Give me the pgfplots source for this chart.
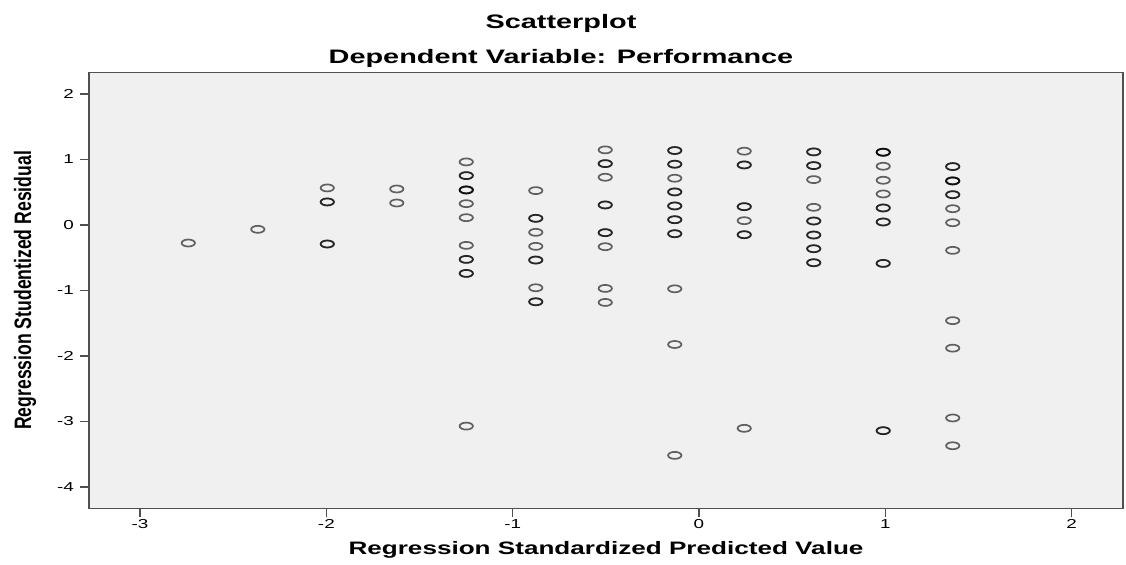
\documentclass[border=0pt]{standalone}
\usepackage{pgfplots}
\pgfplotsset{compat=1.18}
\usepackage{fontspec}
\setmainfont{Liberation Sans}
\usepackage{graphicx}
\definecolor{bg}{HTML}{F0F0F0}
\definecolor{axline}{HTML}{505050}
\newcommand\sx[1]{\scalebox{1.45}[1]{#1}}
\begin{document}
\begin{tikzpicture}
\useasboundingbox (-44.5pt,-27.85pt) rectangle (518.5pt,254.15pt);
\begin{axis}[
  at={(0,0)}, anchor=south west,
  scale only axis, width=517pt, height=217.9pt,
  xmin=-3.274, xmax=2.276, ymin=-4.325, ymax=2.328,
  axis background/.style={fill=bg},
  axis line style={draw=axline, line width=0.65pt},
  tick style={draw=axline, line width=0.65pt},
  tick align=outside, major tick length=4.5pt,
  xtick pos=bottom, ytick pos=left,
  xtick={-3,-2,-1,0,1,2},
  xticklabels={\sx{-3},\sx{-2},\sx{-1},\sx{0},\sx{1},\sx{2}},
  ytick={-4,-3,-2,-1,0,1,2},
  yticklabels={\sx{-4},\sx{-3},\sx{-2},\sx{-1},\sx{0},\sx{1},\sx{2}},
  ticklabel style={font=\fontsize{6.5pt}{7pt}\selectfont, text=black},
  xticklabel style={anchor=center, yshift=-3.5pt},
  yticklabel style={anchor=east, xshift=0.5pt},
  xlabel={\sx{\bfseries Regression Standardized Predicted Value}},
  label style={font=\fontsize{9pt}{10pt}\selectfont},
  xlabel style={at={(axis description cs:0.5,0)}, anchor=center, yshift=-20.85pt},
  clip=false,
]
\addplot[only marks, mark=o, mark size=1.75pt,
  mark options={xscale=1.9, line width=0.85pt, draw=black, draw opacity=0.6}]
coordinates {
(-2.741,-0.275)
(-2.368,-0.066)
(-1.995,0.566) (-1.995,0.352) (-1.995,-0.29)
(-1.622,0.55) (-1.622,0.336)
(-1.249,0.963) (-1.249,0.754) (-1.249,0.535) (-1.249,0.326) (-1.249,0.112) (-1.249,-0.311) (-1.249,-0.525) (-1.249,-0.739) (-1.249,-3.07)
(-0.876,0.525) (-0.876,0.102) (-0.876,-0.112) (-0.876,-0.326) (-0.876,-0.535) (-0.876,-0.958) (-0.876,-1.172)
(-0.503,1.147) (-0.503,0.937) (-0.503,0.729) (-0.503,0.306) (-0.503,-0.117) (-0.503,-0.331) (-0.503,-0.968) (-0.503,-1.182)
(-0.130,1.137) (-0.130,0.928) (-0.130,0.714) (-0.130,0.505) (-0.130,0.291) (-0.130,0.081) (-0.130,-0.133) (-0.130,-0.974) (-0.130,-1.824) (-0.130,-3.517)
(0.243,1.127) (0.243,0.917) (0.243,0.28) (0.243,0.066) (0.243,-0.148) (0.243,-3.104)
(0.616,1.116) (0.616,0.907) (0.616,0.693) (0.616,0.27) (0.616,0.061) (0.616,-0.153) (0.616,-0.362) (0.616,-0.576)
(0.989,1.111) (0.989,0.897) (0.989,0.683) (0.989,0.474) (0.989,0.26) (0.989,0.046) (0.989,-0.586) (0.989,-3.14)
(1.362,0.892) (1.362,0.673) (1.362,0.463) (1.362,0.249) (1.362,0.035) (1.362,-0.387) (1.362,-1.46) (1.362,-1.88) (1.362,-2.946) (1.362,-3.37)
};
% overlapping (repeated) cases drawn darker
\addplot[only marks, mark=o, mark size=1.75pt,
  mark options={xscale=1.9, line width=0.85pt, draw=black, draw opacity=0.6}]
coordinates {
(-1.995,0.352) (-1.995,-0.29)
(-1.249,0.754) (-1.249,0.535) (-1.249,0.535) (-1.249,-0.525) (-1.249,-0.739)
(-0.876,0.102) (-0.876,-0.535) (-0.876,-1.172)
(-0.503,0.937) (-0.503,0.306) (-0.503,-0.117)
(-0.130,1.137) (-0.130,0.928) (-0.130,0.505) (-0.130,0.291) (-0.130,0.081) (-0.130,-0.133)
(0.243,0.917) (0.243,0.28) (0.243,-0.148)
(0.616,1.116) (0.616,0.907) (0.616,0.061) (0.616,-0.153) (0.616,-0.362) (0.616,-0.576)
(0.989,1.111) (0.989,1.111) (0.989,0.26) (0.989,0.046) (0.989,-0.586) (0.989,-3.14)
(1.362,0.892) (1.362,0.673) (1.362,0.673) (1.362,0.463)
};
\end{axis}
\node[font=\fontsize{9.75pt}{11pt}\selectfont\bfseries, anchor=center] at (236pt,242.65pt) {\scalebox{1.48}[1]{Scatterplot}};
\node[font=\fontsize{9.75pt}{11pt}\selectfont\bfseries, anchor=center] at (236pt,225.15pt) {\scalebox{1.48}[1]{Dependent Variable: Performance}};
\node[font=\fontsize{8.8pt}{10pt}\selectfont\bfseries, rotate=90, anchor=center] at (-32pt,108.95pt) {\scalebox{1}[1.35]{Regression Studentized Residual}};
\end{tikzpicture}
\end{document}
